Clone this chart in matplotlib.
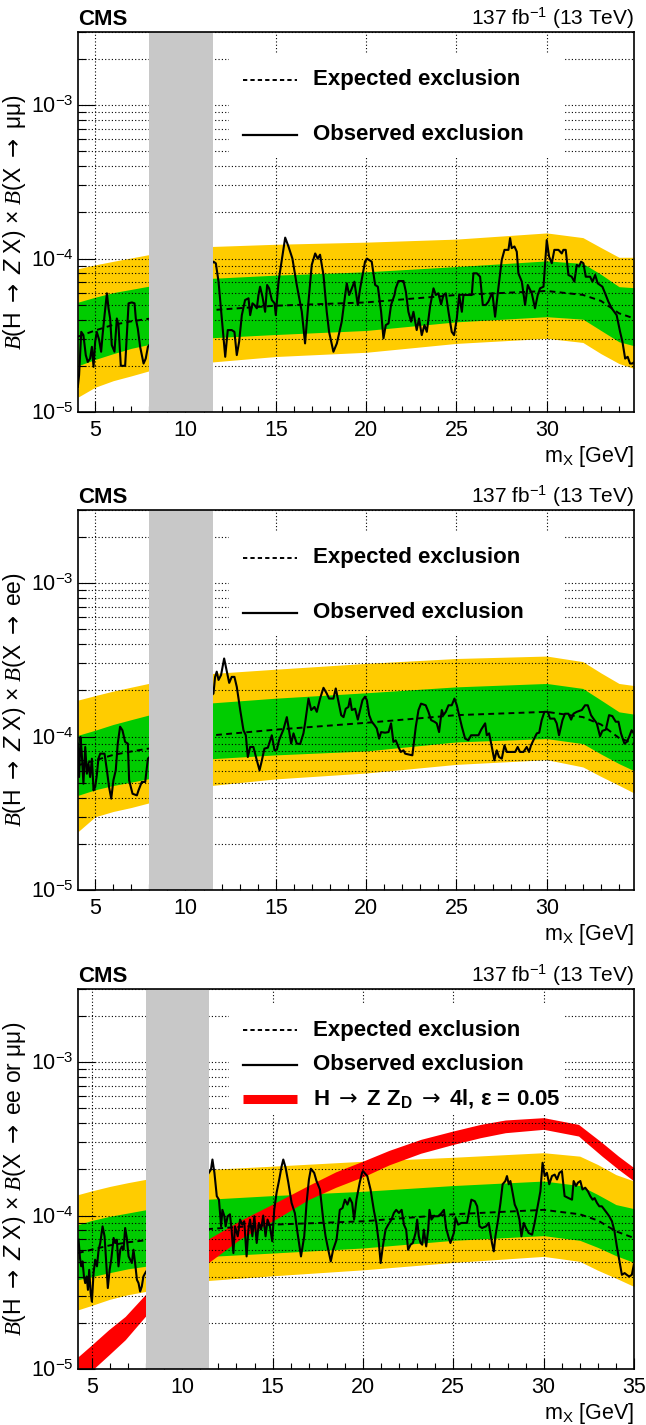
import numpy as np
import matplotlib
matplotlib.use('Agg')
import matplotlib.pyplot as plt
from matplotlib.patches import Rectangle
from matplotlib.lines import Line2D
from matplotlib.ticker import FixedLocator, MultipleLocator, FuncFormatter, NullFormatter

plt.rcParams['font.family'] = ['Liberation Sans', 'DejaVu Sans']
plt.rcParams['mathtext.fontset'] = 'custom'
plt.rcParams['mathtext.rm'] = 'Liberation Sans'
plt.rcParams['mathtext.it'] = 'Liberation Serif:italic'
plt.rcParams['mathtext.bf'] = 'Liberation Sans:bold'
plt.rcParams['mathtext.sf'] = 'Liberation Sans:italic'
plt.rcParams['mathtext.tt'] = 'DejaVu Sans'

SCALE = 1e-5  # all limit values below are in units of 1e-5

# ---------------- excluded Upsilon region ----------------
veto_lo, veto_hi = 8.0, 11.5

# ---------------- Panel 1: X -> mumu ----------------
band1_x = [4.05, 5.0, 6.0, 7.0, 7.95, 11.5, 15.0, 20.0, 25.0, 30.0, 32.0, 33.0, 34.0, 34.85]
band1_y2up = [8.6, 9.1, 9.6, 10.1, 10.6, 12.0, 12.4, 12.8, 13.4, 14.7, 13.7, 11.8, 10.2, 10.2]
band1_y1up = [5.2, 5.6, 6.0, 6.3, 6.6, 7.44, 7.8, 8.2, 8.87, 9.66, 9.3, 7.9, 6.56, 6.46]
band1_med = [3.1, 3.4, 3.7, 3.9, 4.05, 4.62, 4.93, 5.18, 5.79, 6.15, 5.8, 5.3, 4.4, 4.07]
band1_y1dn = [2.0, 2.2, 2.4, 2.6, 2.75, 3.05, 3.2, 3.4, 3.87, 4.18, 4.03, 3.4, 2.87, 2.7]
band1_y2dn = [1.25, 1.45, 1.6, 1.72, 1.85, 2.12, 2.3, 2.45, 2.8, 3.02, 2.84, 2.4, 2.07, 1.92]

obs1_x = [4.04, 4.11, 4.23, 4.35, 4.48, 4.59, 4.72, 4.82, 4.91, 5.00, 5.09, 5.22, 5.33, 5.41, 5.52, 5.65,
          5.74, 5.83, 5.92, 6.07, 6.20, 6.29, 6.42, 6.66, 6.85, 7.03, 7.18, 7.25, 7.36, 7.49, 7.68, 7.80, 7.92,
          11.55, 11.68, 11.83, 12.01, 12.20, 12.34, 12.56, 12.71, 12.84, 12.97, 13.12, 13.30, 13.49, 13.58,
          13.71, 13.82, 13.95, 14.04, 14.13, 14.26, 14.41, 14.52, 14.63, 14.78, 14.93, 15.00, 15.15, 15.33,
          15.52, 15.70, 15.92, 16.16, 16.44, 16.62, 16.81, 16.99, 17.18, 17.32, 17.45, 17.64, 17.82, 17.95,
          18.19, 18.38, 18.65, 18.84, 18.93, 19.06, 19.21, 19.35, 19.54, 19.67, 19.94,
          20.04, 20.31, 20.50, 20.65, 20.83, 20.96, 21.09, 21.24, 21.38, 21.57, 21.64, 21.79, 22.07, 22.20,
          22.34, 22.49, 22.62, 22.80, 22.93, 23.08, 23.23, 23.36, 23.54, 23.73, 23.86, 24.00, 24.15, 24.28,
          24.41, 24.56, 24.74, 24.87, 25.02, 25.15, 25.30, 25.39, 25.66, 25.85, 25.94, 26.13, 26.31, 26.46,
          26.62, 26.77, 26.92, 26.99, 27.14, 27.32, 27.51, 27.66, 27.88, 27.97, 28.06, 28.21, 28.34, 28.43,
          28.62, 28.80, 28.95, 29.17, 29.35, 29.50, 29.63, 29.82, 30.00, 30.13, 30.28, 30.42, 30.65, 30.83,
          30.92, 31.05, 31.20, 31.38, 31.53, 31.66, 31.79, 31.90, 32.03, 32.16, 32.40, 32.53, 32.68, 32.82,
          32.95, 33.08, 33.23, 33.41, 33.60, 33.87, 34.06, 34.19, 34.34, 34.48, 34.61, 34.74, 34.85]
obs1_y = [1.46, 1.74, 3.33, 3.17, 2.35, 2.12, 2.23, 2.66, 1.97, 2.87, 3.33, 2.95, 2.47, 3.17, 4.28, 5.94,
          4.74, 4.07, 2.73, 2.47, 4.07, 3.69, 2.00, 2.00, 5.11, 5.18, 5.11, 4.07, 3.50, 2.66, 2.07, 2.23, 2.66,
          9.55, 9.32, 7.07, 4.07, 2.29, 3.42, 3.42, 3.33, 2.35, 2.87, 4.28, 5.37, 5.51, 4.28,
          5.11, 4.98, 4.74, 5.79, 6.56, 5.65, 4.50, 6.73, 6.40, 5.37, 5.11, 4.28, 7.07, 9.80,
          13.7, 12.0, 10.0, 6.73, 4.50, 2.80, 5.24, 9.09, 10.8, 10.0, 10.6, 7.82, 4.50, 3.33,
          2.47, 2.80, 3.88, 5.79, 6.90, 5.79, 6.40, 7.07, 4.98, 6.40, 9.55,
          10.0, 9.55, 6.73, 6.56, 4.50, 3.02, 3.69, 3.78, 4.98, 5.79, 6.40, 7.14, 7.14, 6.09,
          4.50, 3.88, 4.50, 3.42, 4.07, 3.17, 3.69, 3.33, 4.86, 6.40, 5.79, 5.94, 5.03, 5.79,
          5.94, 4.50, 3.33, 3.17, 4.07, 5.79, 4.50, 5.79, 5.79, 5.79, 8.02, 8.02, 7.62, 4.98,
          4.98, 5.24, 5.79, 5.94, 4.18, 6.40, 9.80, 11.4, 11.4, 13.6, 11.7, 12.0, 11.1, 8.02,
          7.07, 4.98, 6.73, 5.94, 4.74, 5.79, 6.40, 6.56, 13.2, 10.3, 9.32, 11.4, 11.4, 10.8,
          11.4, 11.4, 7.82, 7.62, 7.07, 9.09, 8.87, 9.55, 9.32, 7.62, 7.62, 7.07, 7.82, 6.90,
          6.73, 6.56, 5.94, 5.24, 4.74, 4.28, 3.33, 2.87, 2.23, 2.29, 2.07, 2.07, 2.12]

# ---------------- Panel 2: X -> ee ----------------
band2_x = [4.05, 5.0, 6.0, 7.0, 7.95, 11.5, 15.0, 20.0, 25.0, 30.0, 32.0, 33.0, 34.0, 34.85]
band2_y2up = [17.3, 18.5, 19.8, 21.0, 22.2, 25.8, 27.5, 30.0, 32.3, 33.5, 30.8, 26.0, 22.2, 21.5]
band2_y1up = [10.2, 11.0, 12.0, 12.9, 13.8, 16.6, 17.8, 19.3, 21.1, 22.2, 20.6, 17.3, 14.5, 14.0]
band2_med = [6.5, 7.0, 7.6, 8.0, 8.35, 10.2, 11.1, 12.3, 13.8, 14.5, 13.4, 12.0, 9.8, 9.0]
band2_y1dn = [4.14, 4.5, 4.8, 5.05, 5.31, 7.18, 7.6, 8.06, 9.23, 9.70, 9.0, 7.7, 6.66, 5.98]
band2_y2dn = [2.4, 3.0, 3.25, 3.45, 3.69, 4.81, 5.3, 5.79, 6.59, 7.07, 6.34, 5.5, 4.81, 4.28]

obs2_x = [4.04, 4.11, 4.19, 4.26, 4.35, 4.45, 4.54, 4.63, 4.72, 4.82, 4.91, 5.00, 5.09, 5.18, 5.28, 5.52,
          5.65, 5.77, 5.89, 6.01, 6.14, 6.25, 6.38, 6.51, 6.66, 6.81, 6.88, 7.07, 7.31, 7.40, 7.58, 7.77, 7.92,
          11.55, 11.64, 11.73, 11.83, 11.97, 12.14, 12.29, 12.42, 12.56, 12.71, 12.84, 13.03, 13.21, 13.34,
          13.45, 13.58, 13.76, 13.95, 14.10, 14.23, 14.37, 14.56, 14.78, 14.93, 15.06, 15.18, 15.42, 15.61,
          15.70, 15.85, 15.98, 16.16, 16.35, 16.53, 16.62, 16.81, 16.96, 17.14, 17.27, 17.45, 17.64, 17.82,
          17.95, 18.19, 18.32, 18.47, 18.62, 18.75, 18.87, 19.02, 19.11, 19.21, 19.39, 19.54, 19.67, 19.80, 19.94,
          20.04, 20.17, 20.31, 20.46, 20.59, 20.72, 20.83, 21.05, 21.24, 21.38, 21.51, 21.64, 21.79, 21.92,
          22.07, 22.16, 22.56, 22.75, 22.90, 23.04, 23.30, 23.45, 23.60, 23.78, 23.91, 24.04, 24.19, 24.28,
          24.41, 24.56, 24.74, 24.89, 25.02, 25.15, 25.30, 25.48, 25.66, 25.81, 26.00, 26.22, 26.37, 26.59,
          26.68, 26.81, 26.96, 27.10, 27.23, 27.36, 27.51, 27.66, 27.79, 27.97, 28.25, 28.39, 28.52, 28.71,
          28.89, 29.02, 29.13, 29.26, 29.45, 29.58, 29.72, 29.87, 30.06, 30.18, 30.42, 30.55, 30.68, 30.87,
          31.01, 31.20, 31.35, 31.48, 31.66, 31.94, 32.12, 32.27, 32.45, 32.58, 32.77, 32.95, 33.08, 33.27,
          33.45, 33.63, 33.82, 33.97, 34.11, 34.30, 34.43, 34.56, 34.70, 34.85]
obs2_y = [9.00, 5.45, 9.95, 7.74, 4.93, 8.56, 5.73, 6.66, 5.45, 7.18, 4.46, 4.69, 5.59, 7.18, 7.74, 7.74,
          6.03, 4.69, 3.94, 5.19, 6.03, 9.00, 11.6, 11.0, 9.23, 9.00, 5.19, 4.24, 4.14, 4.46, 5.06, 5.06, 7.18,
          19.1, 24.5, 26.5, 23.4, 25.2, 32.3, 26.5, 22.4, 24.5, 24.5, 21.1, 14.9, 11.0, 10.2,
          7.36, 8.56, 8.56, 7.00, 6.03, 7.00, 8.35, 8.47, 10.2, 8.14, 8.23, 9.46, 11.1, 13.4,
          11.6, 9.00, 10.5, 9.00, 8.95, 10.5, 12.2, 17.7, 14.9, 15.6, 14.5, 17.7, 20.8, 19.1,
          17.7, 17.7, 20.6, 16.9, 13.8, 13.4, 15.2, 15.6, 17.7, 14.9, 15.2, 12.9, 14.9, 17.3, 18.2,
          17.3, 13.8, 12.5, 11.9, 11.3, 9.70, 10.7, 10.6, 10.7, 12.2, 9.23, 9.46, 8.56, 7.94,
          8.14, 7.74, 7.55, 11.6, 14.9, 16.4, 16.0, 14.5, 12.8, 12.5, 12.2, 10.7, 14.9, 13.8,
          14.5, 16.0, 16.0, 17.7, 16.0, 13.8, 11.6, 9.70, 9.46, 10.2, 10.2, 10.2, 11.1, 12.2,
          10.2, 10.5, 8.56, 7.00, 8.14, 7.36, 7.18, 8.78, 7.94, 7.94, 7.94, 8.56, 7.94, 7.94,
          8.56, 7.94, 8.78, 9.46, 10.5, 10.6, 12.8, 14.5, 14.5, 13.1, 13.1, 12.2, 10.2, 12.8,
          14.1, 14.1, 12.9, 14.1, 14.5, 14.9, 16.0, 16.0, 13.8, 13.1, 12.2, 10.05, 10.9, 11.1,
          13.8, 13.6, 12.5, 12.5, 10.5, 9.00, 9.23, 9.95, 11.0, 10.4]

# ---------------- Panel 3: X -> ee or mumu ----------------
band3_x = [4.23, 5.0, 6.0, 7.0, 7.95, 11.5, 15.0, 20.0, 25.0, 30.0, 32.0, 33.0, 34.0, 35.0]
band3_y2up = [13.7, 14.5, 15.5, 16.4, 17.2, 20.0, 21.0, 22.6, 24.0, 25.7, 24.4, 21.5, 18.5, 16.8]
band3_y1up = [8.73, 9.3, 9.9, 10.4, 10.9, 12.8, 13.5, 14.4, 15.7, 16.8, 15.7, 13.7, 11.8, 11.1]
band3_med = [5.7, 6.0, 6.4, 6.7, 6.9, 8.18, 8.73, 9.18, 10.2, 10.9, 10.2, 9.3, 7.9, 7.15]
band3_y1dn = [3.82, 4.0, 4.25, 4.5, 4.67, 5.42, 5.7, 6.15, 6.9, 7.4, 6.9, 6.2, 5.48, 4.95]
band3_y2dn = [2.43, 2.6, 2.85, 3.05, 3.2, 3.78, 4.05, 4.43, 4.95, 5.42, 5.03, 4.4, 3.91, 3.45]

obs3_x = [4.26, 4.34, 4.41, 4.48, 4.56, 4.63, 4.71, 4.78, 4.85, 4.93, 5.00, 5.09, 5.18, 5.28, 5.37, 5.46,
          5.59, 5.70, 5.77, 5.88, 5.98, 6.07, 6.20, 6.29, 6.38, 6.47, 6.57, 6.66, 6.75, 6.84, 6.93, 7.03,
          7.21, 7.30, 7.39, 7.49, 7.58, 7.67, 7.76, 7.85, 7.95,
          11.59, 11.67, 11.78, 11.91, 12.03, 12.15, 12.22, 12.33, 12.40, 12.51, 12.64, 12.73, 12.83, 12.92,
          13.07, 13.20, 13.32, 13.43, 13.56, 13.66, 13.75, 13.88, 13.99, 14.12, 14.24, 14.36, 14.48, 14.61,
          14.72, 14.85, 14.98, 15.09, 15.22, 15.35, 15.50, 15.59, 15.72, 15.87, 16.05, 16.23, 16.38, 16.57,
          16.75, 16.88, 17.01, 17.12, 17.30, 17.43, 17.62, 17.80, 17.93, 18.08, 18.22, 18.35, 18.54, 18.72,
          18.87, 19.00, 19.14, 19.27, 19.40, 19.51, 19.64, 19.82, 19.95,
          20.00, 20.24, 20.42, 20.61, 20.74, 20.88, 20.98, 21.10, 21.25, 21.40, 21.58, 21.71, 21.84, 21.99,
          22.14, 22.27, 22.39, 22.50, 22.63, 22.76, 22.91, 23.00, 23.09, 23.19, 23.28, 23.37, 23.50, 23.61,
          23.68, 23.79, 23.92, 24.16, 24.35, 24.48, 24.60, 24.75, 24.84, 25.03, 25.12, 25.27, 25.45, 25.76,
          25.89, 26.00, 26.19, 26.32, 26.45, 26.59, 26.81, 26.96, 27.05, 27.14, 27.24, 27.33, 27.48, 27.61,
          27.73, 27.88, 27.97, 28.07, 28.16, 28.25, 28.40, 28.53, 28.66, 28.77, 28.90, 29.02, 29.17, 29.36,
          29.50, 29.63, 29.82, 29.94, 30.06, 30.18, 30.31, 30.46, 30.61, 30.74, 30.87, 31.01, 31.16, 31.38,
          31.57, 31.66, 31.79, 31.90, 32.03, 32.15, 32.30, 32.45, 32.58, 32.71, 32.82, 32.95, 33.08, 33.22,
          33.37, 33.50, 33.63, 33.78, 33.92, 34.05, 34.18, 34.33, 34.48, 34.60, 34.73, 34.88, 34.99]
obs3_y = [6.97, 5.29, 4.67, 5.03, 4.01, 3.63, 4.01, 3.28, 4.43, 3.12, 2.75, 4.22, 5.16, 4.67, 5.99, 6.62,
          8.51, 7.33, 5.42, 3.37, 4.43, 5.16, 7.15, 6.62, 6.97, 4.67, 5.99, 6.30, 5.99, 8.30, 7.15, 5.42,
          4.91, 5.99, 4.91, 3.82, 3.63, 3.20, 3.45, 4.01, 4.22,
          20.0, 23.2, 19.0, 13.4, 12.7, 8.51, 10.9, 9.90, 8.51, 9.90, 10.2, 8.10, 5.70, 8.51,
          7.33, 9.42, 8.73, 9.18, 5.42, 8.10, 9.42, 7.33, 9.90, 6.63, 8.96, 8.10, 10.0, 7.33,
          9.42, 8.51, 6.80, 10.9, 14.1, 16.8, 21.0, 23.2, 20.5, 16.4, 12.1, 10.4, 7.70, 5.42,
          7.33, 12.1, 17.2, 20.2, 19.0, 16.8, 14.8, 9.42, 7.33, 5.99, 5.03, 5.99, 6.97, 10.9,
          11.2, 12.7, 11.8, 13.0, 12.1, 9.42, 12.7, 16.4, 19.0,
          19.5, 18.1, 14.8, 10.7, 8.96, 6.63, 4.91, 6.30, 8.10, 8.73, 9.42, 10.4, 10.9, 10.4,
          10.9, 8.73, 8.10, 5.99, 6.46, 6.63, 7.70, 9.42, 7.33, 6.63, 6.46, 8.10, 6.30, 8.10,
          10.9, 9.42, 9.90, 9.90, 10.4, 10.9, 8.30, 7.15, 6.63, 7.70, 9.66, 8.73, 8.96, 8.96,
          10.9, 12.7, 12.4, 11.5, 8.51, 8.30, 8.51, 8.96, 7.70, 6.63, 5.85, 7.33, 9.42, 12.1,
          16.0, 16.8, 18.1, 16.0, 16.8, 14.8, 11.8, 10.9, 9.42, 7.33, 8.96, 8.30, 7.70, 7.51,
          8.96, 10.9, 14.4, 22.1, 18.1, 19.0, 16.0, 18.1, 18.5, 17.2, 19.0, 19.5, 13.4, 13.0,
          12.7, 16.8, 15.6, 16.4, 16.8, 14.8, 15.2, 14.4, 13.4, 12.7, 13.0, 12.1, 11.5, 11.5,
          10.9, 10.4, 9.90, 9.18, 7.90, 6.30, 5.16, 4.11, 4.22, 4.11, 4.01, 4.11, 4.78]

# H -> Z Z_D -> 4l, eps = 0.05 prediction (band)
zd_x = [4.23, 5.0, 5.92, 6.84, 7.95, 11.54, 13.29, 15.13, 16.97, 18.5, 20.1, 21.44, 23.2, 24.99, 26.5,
        27.88, 30.0, 31.93, 33.23, 34.14, 35.0]
zd_up = [1.2, 1.44, 1.80, 2.2, 3.05, 7.15, 9.4, 12.1, 15.7, 19.3, 22.9, 26.6, 31.4, 35.6, 39.3,
         42.0, 43.5, 39.3, 29.9, 24.4, 20.5]
zd_dn = [0.8, 0.98, 1.23, 1.55, 2.2, 5.03, 7.15, 9.4, 12.7, 15.3, 18.1, 21.4, 25.5, 29.1, 32.2,
         34.7, 36.5, 33.0, 24.4, 20.0, 16.8]

xlims = [(4.05, 34.83), (4.05, 34.83), (4.23, 35.0)]
ylim = (1e-5, 3e-3)
x_major = [5, 10, 15, 20, 25, 30, 35]

ARR = r'$\mathtt{\rightarrow}$'
ylabels = [r'$\mathit{B}$(H ' + ARR + r' $\mathsf{Z}$ X) × $\mathit{B}$(X ' + ARR + ' μμ)',
           r'$\mathit{B}$(H ' + ARR + r' $\mathsf{Z}$ X) × $\mathit{B}$(X ' + ARR + ' ee)',
           r'$\mathit{B}$(H ' + ARR + r' $\mathsf{Z}$ X) × $\mathit{B}$(X ' + ARR + ' ee or μμ)']

YELLOW = '#ffcc00'
GREEN = '#00cc00'
GREY = '#c8c8c8'
RED = '#ff0000'

W, H = 646, 1425
fig = plt.figure(figsize=(W / 100, H / 100), dpi=100)
panel_tops = [32, 510, 989]
AX_L, AX_W, AX_H = 78, 556, 380

panels = [
    (band1_x, band1_y2dn, band1_y1dn, band1_med, band1_y1up, band1_y2up, obs1_x, obs1_y),
    (band2_x, band2_y2dn, band2_y1dn, band2_med, band2_y1up, band2_y2up, obs2_x, obs2_y),
    (band3_x, band3_y2dn, band3_y1dn, band3_med, band3_y1up, band3_y2up, obs3_x, obs3_y),
]

FS = 15.5
grid_kw = dict(color='black', linestyle=(0, (1, 2)), linewidth=0.8)

for i, (bx, y2dn, y1dn, med, y1up, y2up, ox, oy) in enumerate(panels):
    top = panel_tops[i]
    ax = fig.add_axes([AX_L / W, 1 - (top + AX_H) / H, AX_W / W, AX_H / H])
    bx = np.array(bx)
    s = lambda a: np.array(a) * SCALE
    ax.fill_between(bx, s(y2dn), s(y2up), color=YELLOW, lw=0, zorder=1)
    ax.fill_between(bx, s(y1dn), s(y1up), color=GREEN, lw=0, zorder=1.1)
    if i == 2:
        ax.fill_between(zd_x, s(zd_dn), s(zd_up), color=RED, lw=0, zorder=2)
    ax.plot(bx, s(med), color='black', lw=1.4, linestyle=(0, (3, 2.2)), zorder=3)
    ax.plot(ox, s(oy), color='black', lw=1.5, zorder=3.2)
    ax.axvspan(veto_lo, veto_hi, color=GREY, lw=0, zorder=4)

    ax.set_yscale('log')
    ax.set_xlim(*xlims[i])
    ax.set_ylim(*ylim)
    ax.xaxis.set_major_locator(FixedLocator(x_major))
    ax.xaxis.set_minor_locator(MultipleLocator(1))
    ax.yaxis.set_major_locator(FixedLocator([1e-5, 1e-4, 1e-3]))
    ax.yaxis.set_minor_locator(FixedLocator([k * 10.0 ** e for e in (-5, -4, -3) for k in range(2, 10)]))
    ax.yaxis.set_minor_formatter(NullFormatter())
    ax.yaxis.set_major_formatter(FuncFormatter(lambda v, p: r'$10^{%d}$' % int(round(np.log10(v)))))
    ax.set_axisbelow(False)
    ax.grid(True, which='major', axis='x', **grid_kw)
    ax.grid(True, which='both', axis='y', **grid_kw)
    ax.tick_params(axis='x', which='major', direction='in', length=8.2, width=0.8, labelsize=FS, pad=6)
    ax.tick_params(axis='x', which='minor', direction='in', length=4.1, width=0.8)
    ax.tick_params(axis='y', which='major', direction='in', length=12.2, width=0.8, labelsize=FS, pad=3)
    ax.tick_params(axis='y', which='minor', direction='in', length=6.1, width=0.8)
    for sp in ax.spines.values():
        sp.set_linewidth(1.2)
        sp.set_zorder(10)

    ax.set_xlabel(r'm$_{\mathregular{X}}$ [GeV]', fontsize=FS, loc='right', labelpad=2)
    ax.set_ylabel(ylabels[i], fontsize=16.5)
    ax.yaxis.set_label_coords(-0.09, 0.5)

    ax.text(0.0, 1.018, 'CMS', transform=ax.transAxes, fontsize=16, fontweight='bold',
            ha='left', va='baseline')
    ax.text(1.0, 1.018, r'137 fb$^{-1}$ (13 TeV)', transform=ax.transAxes, fontsize=15,
            ha='right', va='baseline')

    # legend
    if i < 2:
        box = (0.272, 0.668, 0.600, 0.277)
        entries = [(0.874, 'exp'), (0.729, 'obs')]
    else:
        box = (0.272, 0.668, 0.600, 0.295)
        entries = [(0.892, 'exp'), (0.800, 'obs'), (0.711, 'zd')]
    ax.add_patch(Rectangle(box[:2], box[2], box[3], transform=ax.transAxes, facecolor='white',
                           edgecolor='none', zorder=5))
    labels = {'exp': 'Expected exclusion', 'obs': 'Observed exclusion',
              'zd': 'H ' + ARR + r' Z Z$_{\mathbf{D}}$ ' + ARR + ' 4l, ε = 0.05'}
    for yy, key in entries:
        if key == 'exp':
            ln = Line2D([0.297, 0.394], [yy, yy], color='black', lw=1.4, linestyle=(0, (2.2, 1.6)))
        elif key == 'obs':
            ln = Line2D([0.297, 0.394], [yy, yy], color='black', lw=1.6)
        else:
            ln = Line2D([0.297, 0.394], [yy, yy], color=RED, lw=6.5, solid_capstyle='butt')
        ln.set_transform(ax.transAxes)
        ln.set_zorder(6)
        ax.add_line(ln)
        ax.text(0.423, yy, labels[key], transform=ax.transAxes, fontsize=16, fontweight='bold',
                ha='left', va='center', zorder=7)

fig.savefig('out.png', dpi=100)
